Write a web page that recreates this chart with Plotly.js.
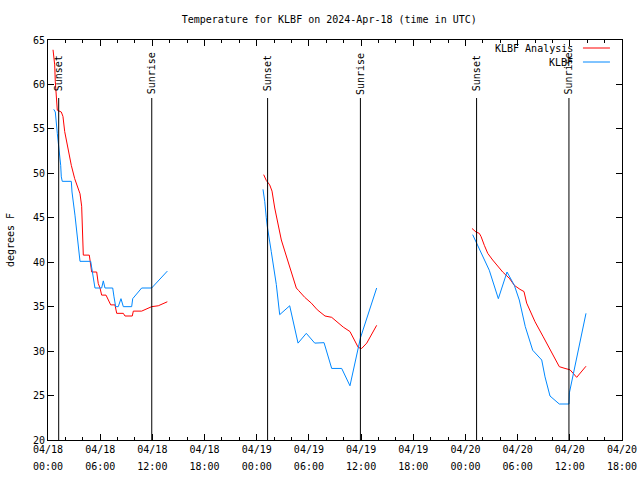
<!DOCTYPE html>
<html>
<head>
<meta charset="utf-8">
<script src="https://cdn.plot.ly/plotly-3.0.1.min.js"></script>
<style>html,body{margin:0;padding:0;background:#fff;}#chart{width:640px;height:480px;}</style>
</head>
<body>
<div id="chart"></div>
<script>
// Hours since 2024-04-18 00:00 UTC; null separates the three nights.
const analysisHours = [0.58,0.77,0.84,0.95,1.07,1.53,1.72,1.92,2.30,2.68,3.07,3.56,3.68,3.87,4.06,4.75,4.91,5.02,5.60,5.78,5.98,6.17,6.67,7.05,7.21,7.70,7.90,8.66,8.85,9.69,9.81,10.77,11.92,12.68,13.72,
  null,
  24.80,25.10,25.49,25.76,26.07,26.45,26.83,27.40,27.98,28.55,28.83,29.52,30.28,30.96,31.85,32.62,33.95,34.72,35.68,36.07,36.65,37.79,
  null,
  48.75,49.21,49.59,49.79,50.17,50.56,51.13,51.71,52.28,53.04,53.62,54.27,54.73,55.04,56.00,56.95,57.92,58.79,59.45,60.02,60.79,61.86];
const analysisTemps = [63.9,62.2,60.3,58.4,57.1,56.9,56.4,54.7,52.8,50.9,49.4,47.9,47.7,46.3,40.8,40.8,39.5,38.9,38.9,37.6,37.1,36.3,36.3,35.4,35.2,35.2,34.25,34.25,33.95,33.95,34.5,34.5,35.0,35.1,35.55,
  null,
  49.85,49.2,48.7,48.0,46.1,44.2,42.5,40.7,38.8,37.1,36.8,36.05,35.4,34.65,33.95,33.8,32.7,32.2,30.4,30.3,30.9,32.9,
  null,
  43.8,43.4,43.25,42.9,41.9,41.0,40.25,39.5,38.9,38.2,37.4,36.95,36.7,35.4,33.3,31.6,29.9,28.25,28.05,27.9,27.05,28.3];

const obsHours = [0.66,0.84,1.07,1.23,1.35,1.46,1.53,1.64,2.68,2.76,3.10,3.30,3.48,3.68,4.91,5.02,5.21,5.40,6.17,6.36,6.55,7.44,7.59,7.78,8.08,8.39,8.66,9.62,9.74,10.77,11.92,13.72,
  null,
  24.72,24.92,25.10,25.21,25.67,26.25,26.64,27.79,28.75,29.70,30.67,31.74,32.62,33.77,34.72,35.93,37.79,
  null,
  48.83,49.21,49.98,50.74,51.78,52.78,53.62,54.19,54.88,55.73,56.77,57.15,57.72,58.79,59.91,59.95,61.86];
const obsTemps = [57.2,56.9,54.5,53.2,52.1,50.9,49.6,49.1,49.1,47.9,45.3,43.3,41.6,40.1,40.1,39.5,38.2,37.1,37.1,37.9,37.1,37.1,36.1,35.0,35.0,35.9,35.0,35.0,35.9,37.1,37.1,39.0,
  null,
  48.2,46.85,45.0,44.05,41.2,37.5,34.1,35.1,30.9,32.0,30.9,30.95,28.05,28.05,26.1,31.5,37.1,
  null,
  43.1,42.3,40.6,39.1,35.9,38.9,37.4,35.75,32.75,30.1,29.0,27.1,24.95,24.05,24.05,25.3,34.25];

const sunsetHours = [1.23, 25.25, 49.28];
const sunriseHours = [11.93, 35.92, 59.9];

const xTickVals = [0,6,12,18,24,30,36,42,48,54,60,66];
const xTickDates = ["04/18","04/18","04/18","04/18","04/19","04/19","04/19","04/19","04/20","04/20","04/20","04/20"];
const xTickTimes = ["00:00","06:00","12:00","18:00","00:00","06:00","12:00","18:00","00:00","06:00","12:00","18:00"];
const seriesNames = ["KLBF Analysis", "KLBF"];
const seriesColors = ["#ff0000", "#0088ff"];

const FONT = "DejaVu Sans Mono, monospace";

const traces = [
  {x: analysisHours, y: analysisTemps, mode: "lines", name: seriesNames[0],
   line: {color: seriesColors[0], width: 1}, connectgaps: false, showlegend: false, hoverinfo: "skip"},
  {x: obsHours, y: obsTemps, mode: "lines", name: seriesNames[1],
   line: {color: seriesColors[1], width: 1}, connectgaps: false, showlegend: false, hoverinfo: "skip"},
  // carrier for the second row of time labels (no marks)
  {x: [null], y: [null], xaxis: "x2", mode: "lines", showlegend: false, hoverinfo: "skip"}
];

const shapes = [];
const annotations = [];
function sunMark(h, label) {
  shapes.push({type: "line", xref: "x", yref: "paper", x0: h, x1: h, y0: 0, y1: 0.855,
               line: {color: "#000", width: 1}});
  annotations.push({xref: "x", yref: "paper", x: h, y: 0.916, text: label, textangle: -90,
                    showarrow: false, xanchor: "center", yanchor: "middle",
                    font: {family: FONT, size: 10, color: "#000"}});
}
sunsetHours.forEach(h => sunMark(h, "Sunset"));
sunriseHours.forEach(h => sunMark(h, "Sunrise"));

// gnuplot-style key: text right-aligned, sample line to the right
const keyY = [0.98, 0.945];
seriesNames.forEach((n, i) => {
  annotations.push({xref: "paper", yref: "paper", x: 0.918, y: keyY[i], text: n, showarrow: false,
                    xanchor: "right", yanchor: "middle", font: {family: FONT, size: 10, color: "#000"}});
  shapes.push({type: "line", xref: "paper", yref: "paper", x0: 0.932, x1: 0.979, y0: keyY[i], y1: keyY[i],
               line: {color: seriesColors[i], width: 1}});
});

const tickFont = {family: FONT, size: 10, color: "#000"};
const layout = {
  width: 640, height: 480,
  margin: {l: 48, r: 18, t: 40, b: 40},
  paper_bgcolor: "#fff", plot_bgcolor: "#fff",
  font: {family: FONT, size: 10, color: "#000"},
  title: {text: "Temperature for KLBF on 2024-Apr-18 (time in UTC)", xref: "paper", x: 0.49, xanchor: "center",
          y: 0.96, yanchor: "middle", font: {family: FONT, size: 10, color: "#000"}},
  showlegend: false,
  xaxis: {range: [0, 66], tickmode: "array", tickvals: xTickVals, ticktext: xTickDates,
          ticks: "inside", ticklen: 6, tickcolor: "#000", showline: true, linecolor: "#000", linewidth: 1,
          mirror: "ticks", showgrid: false, zeroline: false,
          minor: {dtick: 2, tick0: 0, ticks: "inside", ticklen: 3, tickcolor: "#000", showgrid: false},
          tickfont: tickFont},
  xaxis2: {range: [0, 66], overlaying: "x", anchor: "y", side: "bottom", tickmode: "array",
           tickvals: xTickVals, ticktext: xTickTimes, ticks: "", showline: false, showgrid: false,
           zeroline: false, ticklabelstandoff: 19, tickfont: tickFont},
  yaxis: {range: [20, 65], dtick: 5, tick0: 20, ticks: "inside", ticklen: 6, tickcolor: "#000",
          showline: true, linecolor: "#000", linewidth: 1, mirror: "ticks", showgrid: false, zeroline: false,
          title: {text: "degrees F", font: {family: FONT, size: 10, color: "#000"}, standoff: 16},
          tickfont: tickFont},
  shapes: shapes,
  annotations: annotations
};

Plotly.newPlot("chart", traces, layout, {staticPlot: true, displayModeBar: false});
</script>
</body>
</html>
